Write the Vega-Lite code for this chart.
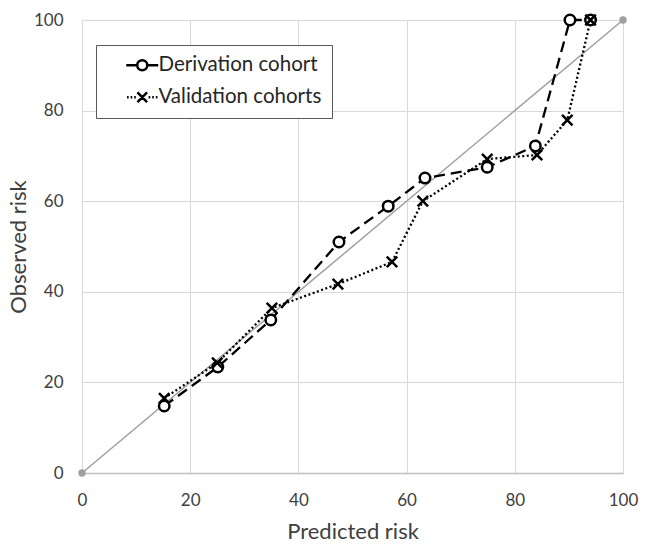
{
  "$schema": "https://vega.github.io/schema/vega-lite/v6.json",
  "width": 541,
  "height": 453,
  "autosize": {"type": "none"},
  "padding": {"left": 82, "top": 20, "right": 27, "bottom": 73},
  "background": "white",
  "config": {
    "font": "Lato",
    "view": {"stroke": null},
    "axis": {
      "grid": true,
      "gridColor": "#d9d9d9",
      "gridWidth": 1,
      "ticks": false,
      "labelFlush": false,
      "labelFont": "Lato",
      "labelFontSize": 17,
      "labelColor": "#404040",
      "titleFont": "Lato",
      "titleFontSize": 22,
      "titleFontWeight": "normal",
      "titleColor": "#404040"
    }
  },
  "datasets": {
    "diag": [{"px": 0, "py": 0}, {"px": 100, "py": 100}],
    "cal": [
      {"cohort": "Derivation cohort", "pred": 15.2, "obs": 14.8},
      {"cohort": "Derivation cohort", "pred": 25.1, "obs": 23.4},
      {"cohort": "Derivation cohort", "pred": 34.9, "obs": 33.8},
      {"cohort": "Derivation cohort", "pred": 47.5, "obs": 51.0},
      {"cohort": "Derivation cohort", "pred": 56.6, "obs": 58.9},
      {"cohort": "Derivation cohort", "pred": 63.4, "obs": 65.1},
      {"cohort": "Derivation cohort", "pred": 74.9, "obs": 67.5},
      {"cohort": "Derivation cohort", "pred": 83.8, "obs": 72.2},
      {"cohort": "Derivation cohort", "pred": 90.2, "obs": 100},
      {"cohort": "Derivation cohort", "pred": 94.0, "obs": 100},
      {"cohort": "Validation cohorts", "pred": 15.2, "obs": 16.5},
      {"cohort": "Validation cohorts", "pred": 25.0, "obs": 24.3},
      {"cohort": "Validation cohorts", "pred": 35.1, "obs": 36.4},
      {"cohort": "Validation cohorts", "pred": 47.3, "obs": 41.7},
      {"cohort": "Validation cohorts", "pred": 57.3, "obs": 46.6},
      {"cohort": "Validation cohorts", "pred": 63.0, "obs": 60.0},
      {"cohort": "Validation cohorts", "pred": 74.9, "obs": 69.3},
      {"cohort": "Validation cohorts", "pred": 84.1, "obs": 70.2},
      {"cohort": "Validation cohorts", "pred": 89.7, "obs": 77.9},
      {"cohort": "Validation cohorts", "pred": 94.0, "obs": 100}
    ]
  },
  "encoding": {
    "x": {
      "field": "pred", "type": "quantitative",
      "scale": {"domain": [0, 100], "nice": false},
      "axis": {"title": "Predicted risk", "values": [0, 20, 40, 60, 80, 100], "domain": true, "domainColor": "#bfbfbf", "domainWidth": 1.5, "labelPadding": 19, "titlePadding": 13}
    },
    "y": {
      "field": "obs", "type": "quantitative",
      "scale": {"domain": [0, 100], "nice": false},
      "axis": {"title": "Observed risk", "values": [0, 20, 40, 60, 80, 100], "domain": false, "labelPadding": 19, "titlePadding": 3}
    }
  },
  "layer": [
    {
      "data": {"name": "diag"},
      "mark": {"type": "line", "color": "#a0a0a0", "strokeWidth": 1.5},
      "encoding": {"x": {"field": "px", "type": "quantitative"}, "y": {"field": "py", "type": "quantitative"}}
    },
    {
      "data": {"name": "diag"},
      "mark": {"type": "point", "filled": true, "color": "#a0a0a0", "size": 55, "opacity": 1},
      "encoding": {"x": {"field": "px", "type": "quantitative"}, "y": {"field": "py", "type": "quantitative"}}
    },
    {
      "data": {"name": "cal"},
      "mark": {"type": "line", "color": "black", "strokeWidth": 2.3},
      "encoding": {
        "detail": {"field": "cohort"},
        "strokeDash": {
          "field": "cohort", "type": "nominal",
          "scale": {"domain": ["Derivation cohort", "Validation cohorts"], "range": [[11, 6], [2, 2.5]]},
          "legend": null
        }
      }
    },
    {
      "data": {"name": "cal"},
      "mark": {"type": "point", "stroke": "black", "fill": "white", "fillOpacity": 1, "strokeWidth": 2.5, "size": 110, "opacity": 1},
      "encoding": {
        "shape": {
          "field": "cohort", "type": "nominal",
          "scale": {"domain": ["Derivation cohort", "Validation cohorts"], "range": ["circle", "M-1,-1L1,1M-1,1L1,-1"]},
          "legend": null
        }
      }
    },
    {
      "data": {"name": "cal"},
      "mark": {"type": "point", "color": "black", "filled": false, "strokeWidth": 2.5, "opacity": 0},
      "encoding": {
        "shape": {
          "field": "cohort", "type": "nominal",
          "scale": {
            "domain": ["Derivation cohort", "Validation cohorts"],
            "range": [
              "M1.25,0L2.625,0M3.875,0L5.25,0M2.625,0A0.625,0.625 0 1,1 3.875,0A0.625,0.625 0 1,1 2.625,0",
              "M1.35,0L1.55,0M1.8,0L2,0M2.25,0L2.45,0M2.65,-0.6L3.85,0.6M2.65,0.6L3.85,-0.6M4.05,0L4.25,0M4.5,0L4.7,0M4.95,0L5.15,0"
            ]
          },
          "legend": {
            "title": null,
            "orient": "none",
            "legendX": 14,
            "legendY": 25,
            "padding": 10,
            "strokeColor": "#595959",
            "fillColor": "white",
            "symbolSize": 256,
            "symbolStrokeWidth": 2.5,
            "symbolStrokeColor": "black",
            "symbolFillColor": "white",
            "labelFont": "Lato",
            "labelFontSize": 20.5,
            "labelLimit": 400,
            "labelColor": "#262626",
            "labelOffset": 32,
            "rowPadding": 11
          }
        }
      }
    }
  ],
  "resolve": {"scale": {"shape": "independent", "strokeDash": "independent"}}
}
